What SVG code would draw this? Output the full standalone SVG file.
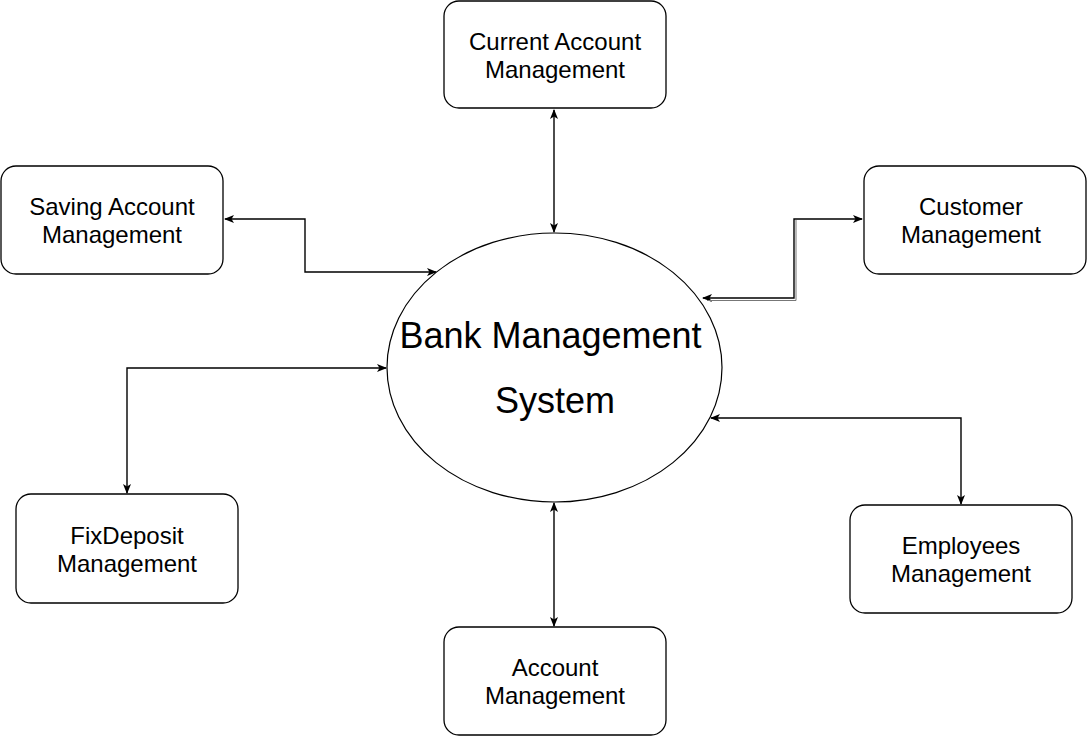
<svg xmlns="http://www.w3.org/2000/svg" width="1087" height="737" viewBox="0 0 1087 737">
<defs>
<style>
.box{fill:#fff;stroke:#000;stroke-width:1.3}
.lbl{font-family:"Liberation Sans",Arial,sans-serif;font-size:24px;fill:#000;text-anchor:middle}
.big{font-family:"Liberation Sans",Arial,sans-serif;font-size:36px;fill:#000;text-anchor:middle}
.edge{fill:none;stroke:#000;stroke-width:1.4}
</style>
<marker id="ah" viewBox="0 0 10 10" refX="9" refY="5" markerWidth="10" markerHeight="10" markerUnits="userSpaceOnUse" orient="auto-start-reverse">
<path d="M0,1 L10,5 L0,9 L2.5,5 Z" fill="#000"/>
</marker>
</defs>
<rect width="1087" height="737" fill="#fff"/>
<g id="connectors">
<path class="edge" d="M554,110 V232" marker-start="url(#ah)" marker-end="url(#ah)"/>
<path class="edge" d="M225,219 H305 V272 H436" marker-start="url(#ah)" marker-end="url(#ah)"/>
<path class="edge" d="M862,219 H794 V298 H703" marker-start="url(#ah)" marker-end="url(#ah)"/>
<path fill="none" stroke="#777" stroke-width="1" d="M707,300.5 H796 V220"/>
<path class="edge" d="M386,368 H127 V493" marker-start="url(#ah)" marker-end="url(#ah)"/>
<path class="edge" d="M711,418 H961 V504" marker-start="url(#ah)" marker-end="url(#ah)"/>
<path class="edge" d="M554,503 V626" marker-start="url(#ah)" marker-end="url(#ah)"/>
</g>
<g id="bank">
<ellipse cx="554.5" cy="367.5" rx="167.5" ry="134.5" fill="#fff" stroke="#000" stroke-width="1.2"/>
<text class="big" x="550.5" y="348">Bank Management</text>
<text class="big" x="555" y="413">System</text>
</g>
<g id="current">
<rect class="box" x="444" y="1" width="222" height="107" rx="15"/>
<text class="lbl" x="555" y="50">Current Account</text>
<text class="lbl" x="555" y="78">Management</text>
</g>
<g id="saving">
<rect class="box" x="1" y="166" width="222" height="108" rx="15"/>
<text class="lbl" x="112" y="215">Saving Account</text>
<text class="lbl" x="112" y="243">Management</text>
</g>
<g id="customer">
<rect class="box" x="864" y="166" width="222" height="108" rx="15"/>
<text class="lbl" x="971" y="215">Customer</text>
<text class="lbl" x="971" y="243">Management</text>
</g>
<g id="fixdeposit">
<rect class="box" x="16" y="494" width="222" height="109" rx="15"/>
<text class="lbl" x="127" y="544">FixDeposit</text>
<text class="lbl" x="127" y="572">Management</text>
</g>
<g id="employees">
<rect class="box" x="850" y="505" width="222" height="108" rx="15"/>
<text class="lbl" x="961" y="554">Employees</text>
<text class="lbl" x="961" y="582">Management</text>
</g>
<g id="account">
<rect class="box" x="444" y="627" width="222" height="108" rx="15"/>
<text class="lbl" x="555" y="676">Account</text>
<text class="lbl" x="555" y="704">Management</text>
</g>
</svg>
